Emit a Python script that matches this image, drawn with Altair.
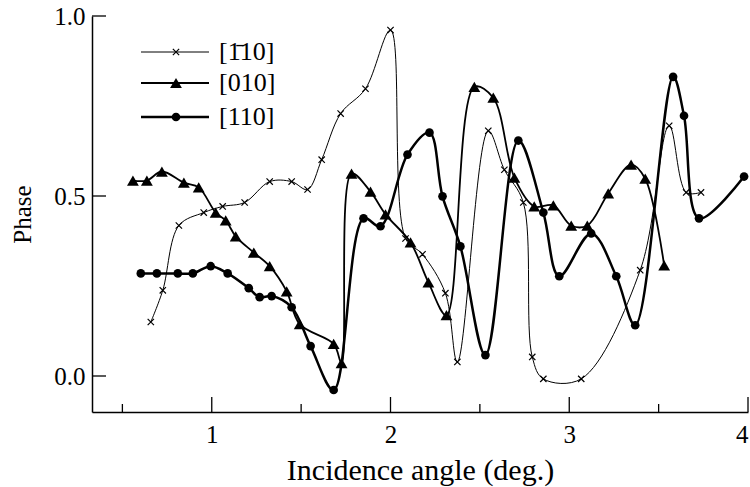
import altair as alt
import pandas as pd

# ---- data ----
x_m110 = [0.659, 0.726, 0.816, 0.955, 1.061, 1.184, 1.324, 1.447, 1.536, 1.615, 1.721, 1.860, 2.000,
          2.084, 2.179, 2.307, 2.374, 2.547, 2.637, 2.743, 2.793, 2.855, 3.067, 3.397, 3.559, 3.654, 3.737]
y_m110 = [0.150, 0.238, 0.418, 0.454, 0.471, 0.482, 0.540, 0.540, 0.518, 0.601, 0.729, 0.798, 0.961,
          0.382, 0.338, 0.230, 0.039, 0.681, 0.573, 0.482, 0.053, -0.008, -0.008, 0.294, 0.695, 0.510, 0.510]

x_010 = [0.559, 0.637, 0.721, 0.844, 0.927, 1.022, 1.078, 1.134, 1.235, 1.324, 1.419, 1.492, 1.682, 1.726,
         1.782, 1.888, 1.972, 2.112, 2.212, 2.313, 2.469, 2.575, 2.693, 2.804, 2.911, 3.011, 3.101, 3.218,
         3.346, 3.425, 3.531]
y_010 = [0.543, 0.543, 0.568, 0.537, 0.524, 0.454, 0.432, 0.388, 0.343, 0.305, 0.235, 0.144, 0.089, 0.036,
         0.562, 0.512, 0.449, 0.371, 0.260, 0.169, 0.803, 0.773, 0.551, 0.471, 0.474, 0.418, 0.418, 0.507,
         0.587, 0.548, 0.307]

x_110 = [0.603, 0.693, 0.810, 0.894, 0.994, 1.089, 1.207, 1.268, 1.335, 1.447, 1.553, 1.682, 1.849, 1.944,
         2.095, 2.218, 2.291, 2.391, 2.531, 2.715, 2.855, 2.944, 3.123, 3.263, 3.369, 3.581, 3.642, 3.726, 3.978]
y_110 = [0.285, 0.285, 0.285, 0.285, 0.305, 0.285, 0.244, 0.219, 0.222, 0.191, 0.083, -0.039, 0.438, 0.416,
         0.615, 0.676, 0.499, 0.360, 0.058, 0.654, 0.454, 0.277, 0.396, 0.277, 0.141, 0.831, 0.723, 0.438, 0.554]

series_labels = ["[1\u030410]", "[010]", "[110]"]
x_tick_major = [1, 2, 3, 4]
x_tick_minor = [0.5, 1.5, 2.5, 3.5]
y_ticks = [0.0, 0.5, 1.0]

# ---- layout ----
W, H = 656, 396
FONT = "Liberation Serif"
xs = alt.Scale(domain=[0.33, 4.0], nice=False, zero=False)
ys = alt.Scale(domain=[-0.1, 1.0], nice=False, zero=False)

x_axis = alt.Axis(values=x_tick_major, format="d", ticks=False, grid=False,
                  domainColor="black", domainWidth=1.5,
                  labelFont=FONT, labelFontSize=25, labelColor="black", labelPadding=10,
                  title="Incidence angle (deg.)", titleFont=FONT, titleFontSize=30,
                  titleFontWeight="normal", titleColor="black",
                  titleX=W / 2, titleY=58, titleAlign="center", titleBaseline="middle")
y_axis = alt.Axis(values=y_ticks, format=".1f", ticks=False, grid=False,
                  domainColor="black", domainWidth=1.5,
                  labelFont=FONT, labelFontSize=25, labelColor="black", labelPadding=7,
                  title="Phase", titleFont=FONT, titleFontSize=25,
                  titleFontWeight="normal", titleColor="black",
                  titleX=-70, titleY=H / 2, titleAngle=270, titleAlign="center", titleBaseline="middle")

X = alt.X("x:Q", scale=xs, axis=x_axis)
Y = alt.Y("y:Q", scale=ys, axis=y_axis)

cross_path = "M-1,-1L1,1M-1,1L1,-1"
styles = [
    dict(xv=x_m110, yv=y_m110, shape=cross_path, size=40, filled=False, sw=1.0, psw=1.2),
    dict(xv=x_010, yv=y_010, shape="triangle-up", size=140, filled=True, sw=1.8, psw=0),
    dict(xv=x_110, yv=y_110, shape="circle", size=75, filled=True, sw=2.5, psw=0),
]
legend_y = [36, 67, 101]

layers = []
for st in styles:
    df = pd.DataFrame({"x": st["xv"], "y": st["yv"]})
    base = alt.Chart(df)
    layers.append(base.mark_line(interpolate="catmull-rom", color="black",
                                 strokeWidth=st["sw"]).encode(x=X, y=Y))
    layers.append(base.mark_point(shape=st["shape"], size=st["size"], filled=st["filled"],
                                  color="black", opacity=1,
                                  strokeWidth=st["psw"] if st["psw"] else 0.5).encode(x=X, y=Y))

# inward ticks
layers.append(alt.Chart(pd.DataFrame({"x": x_tick_major})).mark_rule(color="black", strokeWidth=1.3)
              .encode(x=X, y=alt.value(H), y2=alt.value(H - 15)))
layers.append(alt.Chart(pd.DataFrame({"x": x_tick_minor})).mark_rule(color="black", strokeWidth=1.3)
              .encode(x=X, y=alt.value(H), y2=alt.value(H - 8)))
layers.append(alt.Chart(pd.DataFrame({"y": y_ticks})).mark_rule(color="black", strokeWidth=1.3)
              .encode(y=Y, x=alt.value(0), x2=alt.value(14)))

# legend
for st, lab, ly in zip(styles, series_labels, legend_y):
    ldf = pd.DataFrame({"label": [lab]})
    lb = alt.Chart(ldf)
    layers.append(lb.mark_rule(color="black", strokeWidth=st["sw"])
                  .encode(x=alt.value(49), x2=alt.value(117), y=alt.value(ly)))
    layers.append(lb.mark_point(shape=st["shape"], size=st["size"], filled=st["filled"], color="black",
                                opacity=1, strokeWidth=st["psw"] if st["psw"] else 0.5)
                  .encode(x=alt.value(84), y=alt.value(ly)))
    layers.append(lb.mark_text(font=FONT, fontSize=26, color="black", align="left", baseline="middle")
                  .encode(x=alt.value(127), y=alt.value(ly), text="label:N"))

chart = alt.layer(*layers).properties(
    width=W, height=H,
    autosize=alt.AutoSizeParams(type="none"),
    padding={"left": 92, "top": 16, "right": 2, "bottom": 75},
    background="white",
).configure_view(stroke=None)

chart.save("out.html", embed_options={"renderer": "svg", "actions": False})
